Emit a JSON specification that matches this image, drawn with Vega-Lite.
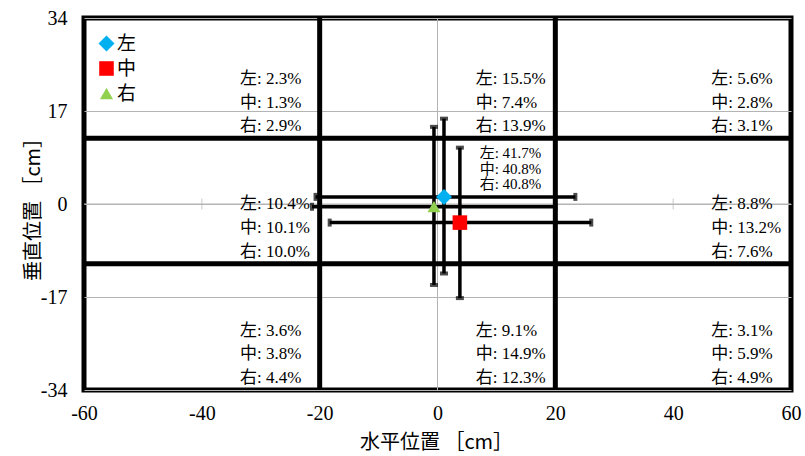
{
  "$schema": "https://vega.github.io/schema/vega-lite/v6.json",
  "width": 707,
  "height": 372,
  "autosize": "none",
  "padding": {"left": 84, "top": 18, "right": 14, "bottom": 66},
  "background": "white",
  "config": {
    "view": {"stroke": "black", "strokeWidth": 5},
    "axis": {
      "labelFont": "Liberation Serif",
      "labelFontSize": 20,
      "labelColor": "black",
      "labelFlush": false,
      "labelExpr": "'' + datum.value",
      "titleFont": "Noto Sans CJK JP",
      "titleFontSize": 20,
      "titleFontWeight": "normal",
      "titleColor": "black",
      "domain": false,
      "ticks": false,
      "tickSize": 0
    },
    "axisX": {"grid": false},
    "axisY": {"grid": true, "gridColor": "#b4b4b4", "gridWidth": 1}
  },
  "datasets": {
    "zones": [
      {"xlo": -60, "ylo": 12, "yhi": 34, "左": 2.3, "中": 1.3, "右": 2.9},
      {"xlo": -20, "ylo": 12, "yhi": 34, "左": 15.5, "中": 7.4, "右": 13.9},
      {"xlo": 20, "ylo": 12, "yhi": 34, "左": 5.6, "中": 2.8, "右": 3.1},
      {"xlo": -60, "ylo": -10.9, "yhi": 12, "左": 10.4, "中": 10.1, "右": 10.0},
      {"xlo": -20, "ylo": -10.9, "yhi": 12, "左": 41.7, "中": 40.8, "右": 40.8},
      {"xlo": 20, "ylo": -10.9, "yhi": 12, "左": 8.8, "中": 13.2, "右": 7.6},
      {"xlo": -60, "ylo": -34, "yhi": -10.9, "左": 3.6, "中": 3.8, "右": 4.4},
      {"xlo": -20, "ylo": -34, "yhi": -10.9, "左": 9.1, "中": 14.9, "右": 12.3},
      {"xlo": 20, "ylo": -34, "yhi": -10.9, "左": 3.1, "中": 5.9, "右": 4.9}
    ],
    "points": [
      {"series": "左", "x": 1.1, "y": 1.3, "xlo": -20.7, "xhi": 23.4, "ylo": -12.7, "yhi": 15.6},
      {"series": "中", "x": 3.8, "y": -3.4, "xlo": -18.3, "xhi": 26.1, "ylo": -17.2, "yhi": 10.3},
      {"series": "右", "x": -0.6, "y": -0.5, "xlo": -21.3, "xhi": 20.0, "ylo": -14.8, "yhi": 14.1}
    ],
    "vdividers": [{"x": -20}, {"x": 20}],
    "hdividers": [{"y": 12}, {"y": -10.9}],
    "xticks": [{"x": -40}, {"x": -20}, {"x": 20}, {"x": 40}]
  },
  "layer": [
    {
      "data": {"values": [{"y": 0}]},
      "mark": {"type": "rule", "color": "#b4b4b4", "strokeWidth": 1},
      "encoding": {
        "y": {
          "field": "y", "type": "quantitative",
          "scale": {"domain": [-34, 34], "nice": false, "zero": false},
          "axis": {
            "title": "垂直位置 ［cm］",
            "values": [-34, -17, 0, 17, 34],
            "labelPadding": 17,
            "titlePadding": -3
          }
        }
      }
    },
    {
      "data": {"values": [{"x": 0}]},
      "mark": {"type": "rule", "color": "#b4b4b4", "strokeWidth": 1},
      "encoding": {
        "x": {
          "field": "x", "type": "quantitative",
          "scale": {"domain": [-60, 60], "nice": false, "zero": false},
          "axis": {
            "title": "水平位置 ［cm］",
            "values": [-60, -40, -20, 0, 20, 40, 60],
            "labelPadding": 13,
            "titlePadding": 9,
            "titleX": 352
          }
        }
      }
    },
    {
      "data": {"name": "xticks"},
      "mark": {"type": "tick", "orient": "vertical", "color": "#b4b4b4", "size": 11, "thickness": 1},
      "encoding": {
        "x": {"field": "x", "type": "quantitative", "scale": {"domain": [-60, 60], "nice": false, "zero": false}},
        "y": {"datum": 0, "type": "quantitative", "scale": {"domain": [-34, 34], "nice": false, "zero": false}}
      }
    },
    {
      "data": {"name": "vdividers"},
      "mark": {"type": "rule", "color": "black", "strokeWidth": 5},
      "encoding": {
        "x": {"field": "x", "type": "quantitative", "scale": {"domain": [-60, 60], "nice": false, "zero": false}}
      }
    },
    {
      "data": {"name": "hdividers"},
      "mark": {"type": "rule", "color": "black", "strokeWidth": 5},
      "encoding": {
        "y": {"field": "y", "type": "quantitative", "scale": {"domain": [-34, 34], "nice": false, "zero": false}}
      }
    },
    {
      "data": {"name": "points"},
      "mark": {"type": "rule", "color": "black", "strokeWidth": 3.5},
      "encoding": {
        "x": {"field": "xlo", "type": "quantitative", "scale": {"domain": [-60, 60], "nice": false, "zero": false}},
        "x2": {"field": "xhi"},
        "y": {"field": "y", "type": "quantitative", "scale": {"domain": [-34, 34], "nice": false, "zero": false}}
      }
    },
    {
      "data": {"name": "points"},
      "mark": {"type": "rule", "color": "black", "strokeWidth": 3.5},
      "encoding": {
        "x": {"field": "x", "type": "quantitative", "scale": {"domain": [-60, 60], "nice": false, "zero": false}},
        "y": {"field": "ylo", "type": "quantitative", "scale": {"domain": [-34, 34], "nice": false, "zero": false}},
        "y2": {"field": "yhi"}
      }
    },
    {
      "data": {"name": "points"},
      "transform": [{"fold": ["xlo", "xhi"], "as": ["end", "xend"]}],
      "mark": {"type": "tick", "orient": "vertical", "color": "black", "size": 8, "thickness": 4},
      "encoding": {
        "x": {"field": "xend", "type": "quantitative", "scale": {"domain": [-60, 60], "nice": false, "zero": false}},
        "y": {"field": "y", "type": "quantitative", "scale": {"domain": [-34, 34], "nice": false, "zero": false}}
      }
    },
    {
      "data": {"name": "points"},
      "transform": [{"fold": ["ylo", "yhi"], "as": ["end", "yend"]}],
      "mark": {"type": "tick", "orient": "horizontal", "color": "black", "size": 8, "thickness": 4},
      "encoding": {
        "x": {"field": "x", "type": "quantitative", "scale": {"domain": [-60, 60], "nice": false, "zero": false}},
        "y": {"field": "yend", "type": "quantitative", "scale": {"domain": [-34, 34], "nice": false, "zero": false}}
      }
    },
    {
      "data": {"name": "points"},
      "mark": {"type": "point", "filled": true, "opacity": 1, "strokeWidth": 0},
      "encoding": {
        "x": {"field": "x", "type": "quantitative", "scale": {"domain": [-60, 60], "nice": false, "zero": false}},
        "y": {"field": "y", "type": "quantitative", "scale": {"domain": [-34, 34], "nice": false, "zero": false}},
        "color": {
          "field": "series", "type": "nominal",
          "scale": {"domain": ["左", "中", "右"], "range": ["#00b0f0", "#ff0000", "#92d050"]},
          "legend": {
            "title": null,
            "orient": "none",
            "legendX": 13,
            "legendY": 16,
            "padding": 0,
            "labelFont": "Noto Sans CJK JP",
            "labelFontSize": 19,
            "labelColor": "black",
            "labelOffset": 1,
            "symbolSize": 170,
            "symbolStrokeWidth": 0,
            "rowPadding": 5
          }
        },
        "shape": {
          "field": "series", "type": "nominal",
          "scale": {"domain": ["左", "中", "右"], "range": ["diamond", "square", "triangle-up"]}
        },
        "size": {
          "field": "series", "type": "nominal",
          "scale": {"domain": ["左", "中", "右"], "range": [256, 169, 289]},
          "legend": null
        }
      }
    },
    {
      "data": {"name": "zones"},
      "transform": [
        {"filter": "!(datum.xlo == -20 && datum.ylo == -10.9)"},
        {"calculate": "['左: ' + format(datum['左'], '.1f') + '%', '中: ' + format(datum['中'], '.1f') + '%', '右: ' + format(datum['右'], '.1f') + '%']", "as": "lines"}
      ],
      "mark": {"type": "text", "align": "left", "baseline": "middle", "dx": 156, "dy": -59.5, "lineHeight": 23.7, "font": "Liberation Serif, Noto Sans CJK JP", "fontSize": 17, "color": "black"},
      "encoding": {
        "x": {"field": "xlo", "type": "quantitative", "scale": {"domain": [-60, 60], "nice": false, "zero": false}},
        "y": {"field": "ylo", "type": "quantitative", "scale": {"domain": [-34, 34], "nice": false, "zero": false}},
        "text": {"field": "lines"}
      }
    },
    {
      "data": {"name": "zones"},
      "transform": [
        {"filter": "datum.xlo == -20 && datum.ylo == -10.9"},
        {"calculate": "['左: ' + format(datum['左'], '.1f') + '%', '中: ' + format(datum['中'], '.1f') + '%', '右: ' + format(datum['右'], '.1f') + '%']", "as": "lines"}
      ],
      "mark": {"type": "text", "align": "left", "baseline": "middle", "dx": 160, "dy": 15, "lineHeight": 15.3, "font": "Liberation Serif, Noto Sans CJK JP", "fontSize": 15, "color": "black"},
      "encoding": {
        "x": {"field": "xlo", "type": "quantitative", "scale": {"domain": [-60, 60], "nice": false, "zero": false}},
        "y": {"field": "yhi", "type": "quantitative", "scale": {"domain": [-34, 34], "nice": false, "zero": false}},
        "text": {"field": "lines"}
      }
    }
  ]
}
